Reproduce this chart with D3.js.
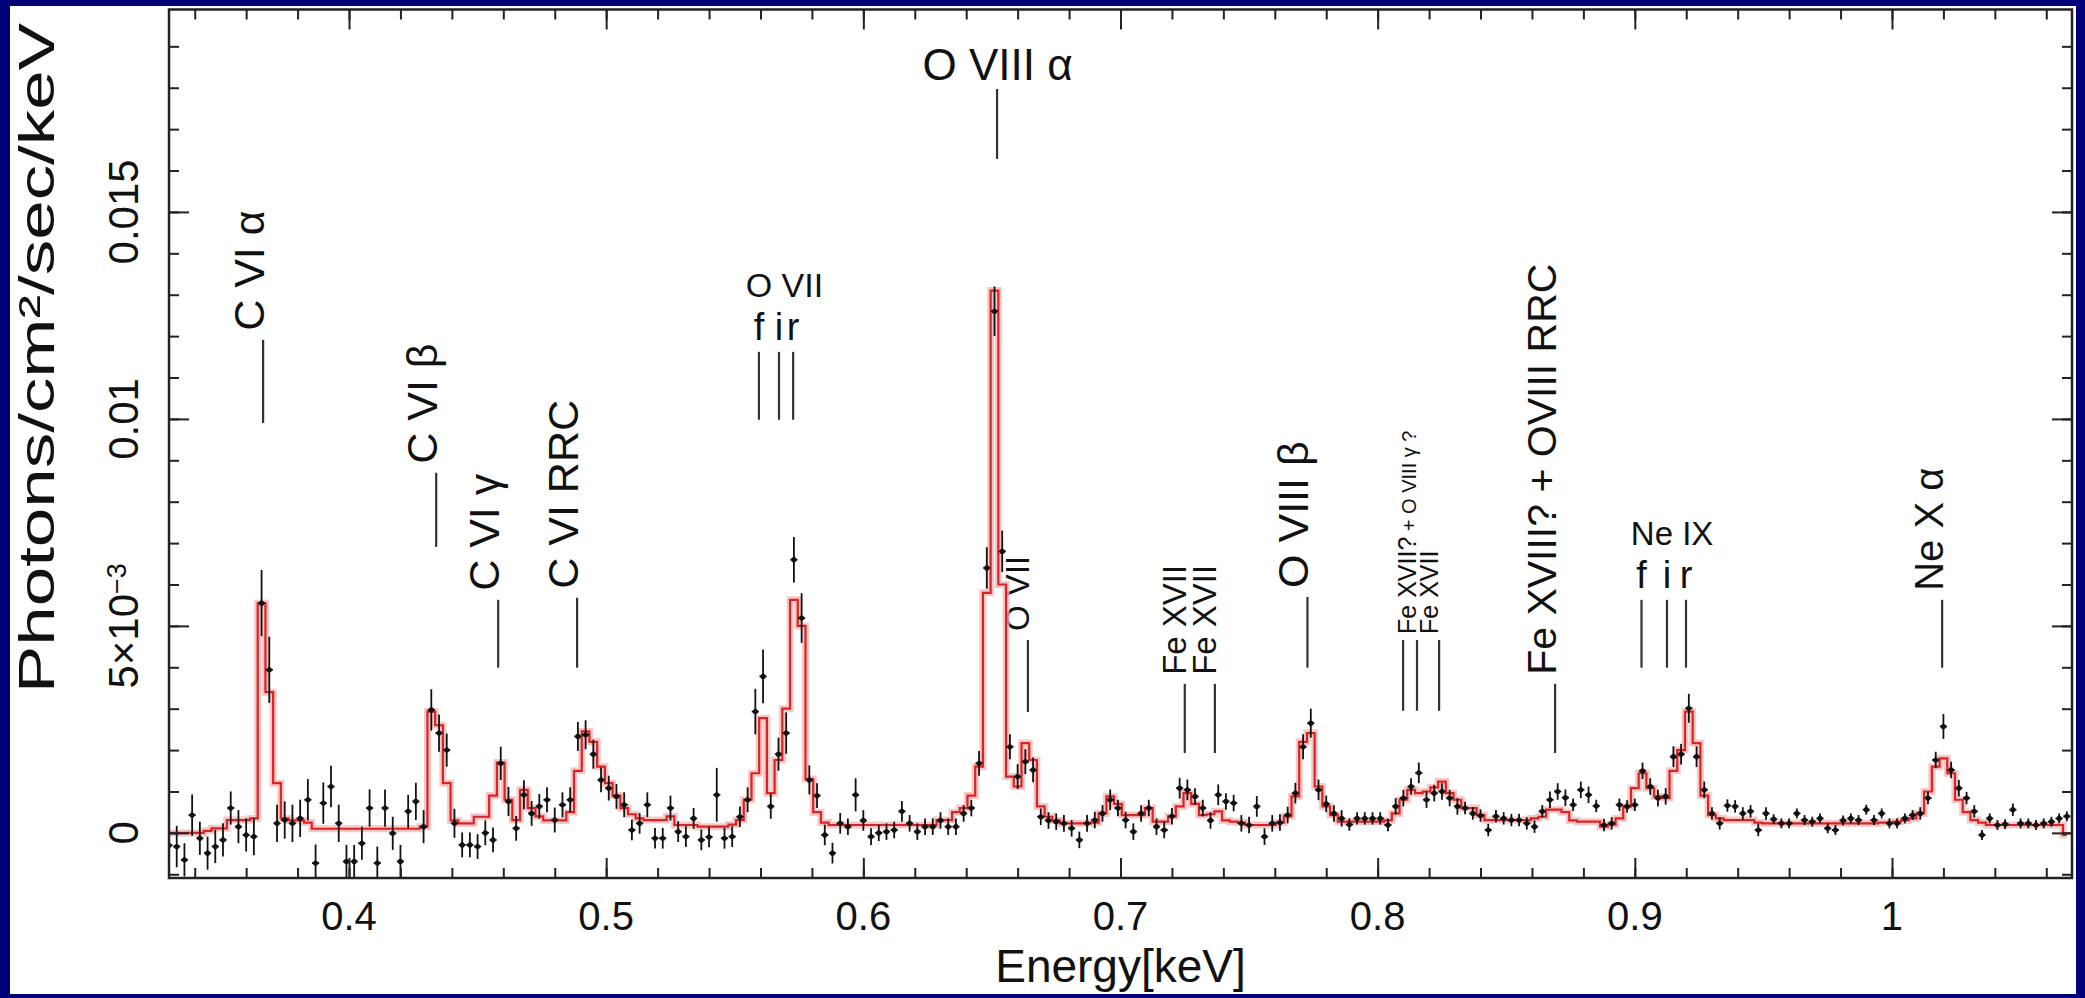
<!DOCTYPE html>
<html>
<head>
<meta charset="utf-8">
<script src="https://cdn.jsdelivr.net/npm/d3@7/dist/d3.min.js"></script>
<style>
  html, body { margin: 0; padding: 0; background: #000078; }
  svg { display: block; }
  text { font-family: "Liberation Sans", Arial, Helvetica, sans-serif; fill: #111; }
</style>
</head>
<body>
<script>
// energy bins in keV, flux in units of 1e-3 photons/cm2/sec/keV
var energy = [
  0.330, 0.333, 0.336, 0.339, 0.342, 0.345, 0.348, 0.351, 0.354, 0.357,
  0.360, 0.363, 0.366, 0.369, 0.372, 0.375, 0.378, 0.381, 0.384, 0.387,
  0.390, 0.393, 0.396, 0.399, 0.402, 0.405, 0.408, 0.411, 0.414, 0.417,
  0.420, 0.423, 0.426, 0.429, 0.432, 0.435, 0.438, 0.441, 0.444, 0.447,
  0.450, 0.453, 0.456, 0.459, 0.462, 0.465, 0.468, 0.471, 0.474, 0.477,
  0.480, 0.483, 0.486, 0.489, 0.492, 0.495, 0.498, 0.501, 0.504, 0.507,
  0.510, 0.513, 0.516, 0.519, 0.522, 0.525, 0.528, 0.531, 0.534, 0.537,
  0.540, 0.543, 0.546, 0.549, 0.552, 0.555, 0.558, 0.561, 0.564, 0.567,
  0.570, 0.573, 0.576, 0.579, 0.582, 0.585, 0.588, 0.591, 0.594, 0.597,
  0.600, 0.603, 0.606, 0.609, 0.612, 0.615, 0.618, 0.621, 0.624, 0.627,
  0.630, 0.633, 0.636, 0.639, 0.642, 0.645, 0.648, 0.651, 0.654, 0.657,
  0.660, 0.663, 0.666, 0.669, 0.672, 0.675, 0.678, 0.681, 0.684, 0.687,
  0.690, 0.693, 0.696, 0.699, 0.702, 0.705, 0.708, 0.711, 0.714, 0.717,
  0.720, 0.723, 0.726, 0.729, 0.732, 0.735, 0.738, 0.741, 0.744, 0.747,
  0.750, 0.753, 0.756, 0.759, 0.762, 0.765, 0.768, 0.771, 0.774, 0.777,
  0.780, 0.783, 0.786, 0.789, 0.792, 0.795, 0.798, 0.801, 0.804, 0.807,
  0.810, 0.813, 0.816, 0.819, 0.822, 0.825, 0.828, 0.831, 0.834, 0.837,
  0.840, 0.843, 0.846, 0.849, 0.852, 0.855, 0.858, 0.861, 0.864, 0.867,
  0.870, 0.873, 0.876, 0.879, 0.882, 0.885, 0.888, 0.891, 0.894, 0.897,
  0.900, 0.903, 0.906, 0.909, 0.912, 0.915, 0.918, 0.921, 0.924, 0.927,
  0.930, 0.933, 0.936, 0.939, 0.942, 0.945, 0.948, 0.951, 0.954, 0.957,
  0.960, 0.963, 0.966, 0.969, 0.972, 0.975, 0.978, 0.981, 0.984, 0.987,
  0.990, 0.993, 0.996, 0.999, 1.002, 1.005, 1.008, 1.011, 1.014, 1.017,
  1.020, 1.023, 1.026, 1.029, 1.032, 1.035, 1.038, 1.041, 1.044, 1.047,
  1.050, 1.053, 1.056, 1.059, 1.062, 1.065, 1.068
]

var flux = [
  -0.30, -0.33, -0.65, 0.43, -0.13, -0.49, -0.33, -0.17, 0.60, 0.15,
  -0.05, -0.09, 5.55, 3.94, 0.23, 0.31, 0.23, 0.35, 0.80, -0.73,
  0.72, 1.12, 0.23, -0.69, -0.69, -0.25, 0.60, -0.73, 0.60, -0.01,
  -0.69, 0.52, 0.76, 0.15, 2.97, 2.41, 2.00, 0.23, -0.29, -0.29,
  -0.33, 0.00, -0.17, 1.68, 0.76, 0.11, 0.92, 0.47, 0.64, 0.80,
  0.31, 0.68, 0.80, 2.33, 2.37, 1.90, 1.28, 1.08, 0.88, 0.68,
  0.07, 0.23, 0.68, -0.13, -0.13, 0.60, 0.03, -0.09, 0.35, -0.17,
  -0.10, 0.92, -0.13, -0.09, 0.39, 0.80, 2.93, 3.78, 0.64, 1.90,
  2.41, 6.60, 5.19, 1.28, 0.90, -0.05, -0.49, 0.23, 0.15, 0.92,
  0.30, -0.09, 0.00, 0.03, 0.07, 0.52, 0.23, 0.03, 0.15, 0.15,
  0.30, 0.15, 0.15, 0.47, 0.60, 1.68, 6.40, 12.60, 6.80, 2.08,
  1.36, 1.72, 1.52, 0.39, 0.30, 0.27, 0.23, 0.11, -0.17, 0.23,
  0.31, 0.47, 0.80, 0.60, 0.31, 0.03, 0.47, 0.60, 0.15, 0.07,
  0.40, 1.08, 1.04, 0.88, 0.60, 0.30, 0.92, 0.76, 0.72, 0.23,
  0.19, 0.64, -0.09, 0.23, 0.25, 0.43, 0.96, 2.08, 2.65, 1.04,
  0.70, 0.47, 0.35, 0.20, 0.35, 0.35, 0.35, 0.35, 0.19, 0.64,
  0.84, 1.12, 1.45, 0.80, 0.96, 1.00, 0.84, 0.64, 0.60, 0.47,
  0.42, 0.07, 0.40, 0.35, 0.31, 0.31, 0.23, 0.15, 0.52, 0.80,
  1.00, 0.85, 0.68, 1.04, 0.92, 0.65, 0.19, 0.23, 0.68, 0.64,
  0.68, 1.50, 1.12, 0.84, 0.88, 1.84, 1.90, 3.01, 1.84, 1.04,
  0.47, 0.23, 0.66, 0.64, 0.47, 0.52, 0.07, 0.47, 0.33, 0.23,
  0.23, 0.47, 0.31, 0.27, 0.35, 0.11, 0.07, 0.30, 0.35, 0.31,
  0.56, 0.31, 0.47, 0.23, 0.23, 0.35, 0.43, 0.47, 0.84, 1.76,
  2.57, 1.52, 1.08, 0.84, 0.52, -0.05, 0.35, 0.19, 0.21, 0.56,
  0.23, 0.23, 0.19, 0.23, 0.27, 0.35, 0.40
]

var fluxErr = [
  0.45, 0.50, 0.40, 0.50, 0.40, 0.40, 0.40, 0.40, 0.40, 0.40,
  0.40, 0.45, 0.80, 0.80, 0.45, 0.45, 0.45, 0.45, 0.50, 0.45,
  0.50, 0.50, 0.45, 0.40, 0.40, 0.40, 0.45, 0.40, 0.45, 0.40,
  0.40, 0.40, 0.45, 0.40, 0.50, 0.45, 0.40, 0.35, 0.30, 0.30,
  0.30, 0.30, 0.30, 0.40, 0.35, 0.30, 0.35, 0.30, 0.30, 0.30,
  0.30, 0.30, 0.30, 0.35, 0.35, 0.35, 0.30, 0.30, 0.30, 0.30,
  0.25, 0.25, 0.30, 0.25, 0.25, 0.30, 0.25, 0.25, 0.25, 0.25,
  0.25, 0.65, 0.25, 0.25, 0.25, 0.30, 0.55, 0.65, 0.30, 0.40,
  0.50, 0.55, 0.60, 0.35, 0.30, 0.25, 0.25, 0.25, 0.20, 0.40,
  0.25, 0.20, 0.20, 0.20, 0.20, 0.25, 0.20, 0.20, 0.20, 0.20,
  0.20, 0.20, 0.20, 0.20, 0.20, 0.30, 0.50, 0.60, 0.50, 0.30,
  0.30, 0.30, 0.30, 0.20, 0.20, 0.20, 0.20, 0.20, 0.20, 0.20,
  0.20, 0.20, 0.25, 0.20, 0.20, 0.20, 0.20, 0.20, 0.20, 0.20,
  0.20, 0.25, 0.25, 0.20, 0.20, 0.20, 0.25, 0.20, 0.20, 0.20,
  0.20, 0.25, 0.20, 0.20, 0.20, 0.20, 0.25, 0.30, 0.35, 0.25,
  0.20, 0.20, 0.20, 0.15, 0.15, 0.15, 0.15, 0.15, 0.15, 0.20,
  0.20, 0.20, 0.25, 0.20, 0.20, 0.20, 0.20, 0.20, 0.15, 0.15,
  0.15, 0.15, 0.15, 0.15, 0.15, 0.15, 0.15, 0.15, 0.15, 0.20,
  0.20, 0.20, 0.15, 0.20, 0.20, 0.15, 0.15, 0.15, 0.15, 0.15,
  0.15, 0.20, 0.20, 0.20, 0.20, 0.25, 0.25, 0.35, 0.25, 0.20,
  0.15, 0.15, 0.15, 0.15, 0.15, 0.15, 0.15, 0.15, 0.12, 0.12,
  0.12, 0.12, 0.12, 0.12, 0.12, 0.12, 0.12, 0.12, 0.12, 0.12,
  0.12, 0.12, 0.12, 0.12, 0.12, 0.12, 0.12, 0.15, 0.15, 0.20,
  0.30, 0.20, 0.20, 0.15, 0.15, 0.12, 0.12, 0.12, 0.12, 0.15,
  0.12, 0.12, 0.12, 0.12, 0.12, 0.12, 0.12
]

var model = [
  0.00, 0.00, 0.00, 0.00, 0.00, 0.05, 0.11, 0.11, 0.31, 0.31,
  0.31, 0.35, 5.55, 3.40, 1.20, 0.35, 0.30, 0.30, 0.25, 0.10,
  0.10, 0.10, 0.10, 0.10, 0.10, 0.10, 0.10, 0.10, 0.10, 0.10,
  0.10, 0.10, 0.10, 0.15, 2.93, 2.60, 1.20, 0.30, 0.23, 0.23,
  0.39, 0.39, 0.90, 1.70, 0.80, 0.31, 1.04, 0.60, 0.40, 0.30,
  0.30, 0.30, 0.50, 1.50, 2.45, 2.20, 1.60, 1.20, 0.90, 0.60,
  0.45, 0.35, 0.31, 0.31, 0.31, 0.40, 0.19, 0.19, 0.19, 0.15,
  0.15, 0.15, 0.15, 0.20, 0.31, 0.80, 1.44, 2.77, 0.96, 1.76,
  3.00, 5.63, 5.00, 1.30, 0.50, 0.25, 0.19, 0.19, 0.19, 0.19,
  0.19, 0.19, 0.19, 0.19, 0.19, 0.19, 0.19, 0.19, 0.19, 0.19,
  0.31, 0.31, 0.50, 0.60, 0.90, 1.60, 5.80, 13.10, 6.00, 1.36,
  1.12, 2.17, 1.76, 0.64, 0.39, 0.30, 0.23, 0.23, 0.23, 0.23,
  0.25, 0.47, 0.88, 0.70, 0.43, 0.43, 0.43, 0.60, 0.27, 0.27,
  0.40, 0.64, 0.96, 0.70, 0.43, 0.45, 0.52, 0.30, 0.27, 0.25,
  0.19, 0.19, 0.19, 0.19, 0.25, 0.40, 0.88, 2.20, 2.41, 1.12,
  0.64, 0.43, 0.27, 0.27, 0.27, 0.27, 0.27, 0.27, 0.30, 0.47,
  0.80, 1.04, 0.96, 1.00, 1.10, 1.24, 0.96, 0.80, 0.60, 0.60,
  0.43, 0.31, 0.31, 0.31, 0.31, 0.31, 0.31, 0.35, 0.39, 0.56,
  0.56, 0.50, 0.30, 0.27, 0.27, 0.27, 0.15, 0.20, 0.35, 0.64,
  1.08, 1.44, 1.08, 0.88, 0.84, 1.50, 2.00, 2.93, 2.17, 0.90,
  0.43, 0.35, 0.31, 0.31, 0.31, 0.31, 0.25, 0.23, 0.23, 0.23,
  0.23, 0.23, 0.23, 0.23, 0.23, 0.23, 0.23, 0.23, 0.23, 0.23,
  0.23, 0.23, 0.25, 0.25, 0.27, 0.30, 0.35, 0.47, 1.00, 1.60,
  1.80, 1.44, 0.80, 0.50, 0.31, 0.25, 0.19, 0.19, 0.19, 0.19,
  0.19, 0.19, 0.19, 0.19, 0.19, 0.19, -0.05
]

var xTicks = [0.4, 0.5, 0.6, 0.7, 0.8, 0.9, 1.0]
var xTickLabels = ['0.4', '0.5', '0.6', '0.7', '0.8', '0.9', '1']
var yTicks = [0, 5, 10, 15]
var yTickLabels = ['0', '5\u00d710', '0.01', '0.015']
var yTickSup = ['', '\u22123', '', '']

// vertical line labels: energy of the line, line extent (flux), label size
var rotLabels = [
  {text: 'C VI \u03b1', e: 0.3666, top: 11.91, bot: 9.90, size: 43},
  {text: 'C VI \u03b2', e: 0.4339, top: 8.70, bot: 6.91, size: 43},
  {text: 'C VI \u03b3', e: 0.4580, top: 5.63, bot: 3.99, size: 43},
  {text: 'C VI RRC', e: 0.4887, top: 5.68, bot: 3.99, size: 43},
  {text: 'O VII', e: 0.6640, top: 4.66, bot: 2.92, size: 33},
  {text: 'Fe XVII', e: 0.7250, top: 3.60, bot: 1.93, size: 33},
  {text: 'Fe XVII', e: 0.7367, top: 3.60, bot: 1.93, size: 33},
  {text: 'O VIII \u03b2', e: 0.7727, top: 5.70, bot: 3.99, size: 43},
  {text: 'Fe XVIII? + OVIII RRC', e: 0.8690, top: 3.60, bot: 1.93, size: 41},
  {text: 'Ne X \u03b1', e: 1.0195, top: 5.63, bot: 3.99, size: 40}
]
var feLines = [0.8099, 0.8153, 0.8239]
var oviiLines = [0.5594, 0.5672, 0.5727]
var neixLines = [0.9026, 0.9125, 0.9199]
var firLetters = ['f', 'i', 'r']

var W = 2085
var H = 998
var mLeft = 169
var mRight = 2072
var mTop = 9.5
var mBottom = 878

var x = d3.scaleLinear().domain([0.33, 1.07]).range([mLeft, mRight])
var y = d3.scaleLinear().domain([-1.09, 19.89]).range([mBottom, mTop])

var svg = d3.select('body')
            .append('svg')
            .attr('width', W)
            .attr('height', H)

svg.append('rect').attr('width', W).attr('height', H).attr('fill', '#000078')
svg.append('rect')
    .attr('x', 10).attr('y', 6)
    .attr('width', 2066).attr('height', 988)
    .attr('fill', '#ffffff')

svg.append('clipPath').attr('id', 'plotclip')
  .append('rect')
    .attr('x', mLeft).attr('y', mTop)
    .attr('width', mRight - mLeft).attr('height', mBottom - mTop)

// ANNOTATIONS
var ann = svg.append('g').attr('class', 'annotations')

function vline (e, t, b) {
  ann.append('line')
    .attr('x1', x(e)).attr('x2', x(e))
    .attr('y1', y(t)).attr('y2', y(b))
    .attr('stroke', '#333').attr('stroke-width', 2.2)
}

rotLabels.forEach(function (d) {
  vline(d.e, d.top, d.bot)
  ann.append('text')
    .attr('transform', 'translate(' + (x(d.e) + 1) + ',' + (y(d.top) - 9) + ') rotate(-90)')
    .attr('font-size', d.size)
    .text(d.text)
})

feLines.forEach(function (e) { vline(e, 4.66, 2.95) })
var feText = ann.append('text')
    .attr('transform', 'translate(' + (x(feLines[1]) - 1) + ',' + (y(4.66) - 6) + ') rotate(-90)')
    .attr('font-size', 25)
feText.append('tspan').text('Fe XVII?')
feText.append('tspan').attr('font-size', 20).text(' + O VIII \u03b3 ?')
ann.append('text')
    .attr('transform', 'translate(' + (x(feLines[2]) - 1) + ',' + (y(4.66) - 6) + ') rotate(-90)')
    .attr('font-size', 25)
    .text('Fe XVII')

oviiLines.forEach(function (e) { vline(e, 11.62, 9.98) })
ann.append('text')
    .attr('x', x(0.5693)).attr('y', y(12.95))
    .attr('text-anchor', 'middle').attr('font-size', 34)
    .text('O VII')
oviiLines.forEach(function (e, i) {
  ann.append('text')
    .attr('x', x(e)).attr('y', y(11.91))
    .attr('text-anchor', 'middle').attr('font-size', 38)
    .text(firLetters[i])
})

neixLines.forEach(function (e) { vline(e, 5.63, 3.99) })
ann.append('text')
    .attr('x', x(0.9145)).attr('y', y(6.96))
    .attr('text-anchor', 'middle').attr('font-size', 33)
    .text('Ne IX')
neixLines.forEach(function (e, i) {
  ann.append('text')
    .attr('x', x(e)).attr('y', y(5.92))
    .attr('text-anchor', 'middle').attr('font-size', 38)
    .text(firLetters[i])
})

vline(0.652, 17.97, 16.28)
ann.append('text')
    .attr('x', x(0.6522)).attr('y', y(18.19))
    .attr('text-anchor', 'middle').attr('font-size', 44)
    .text('O VIII \u03b1')

// MODEL (step histogram) AND DATA
var plot = svg.append('g').attr('clip-path', 'url(#plotclip)')

var step = d3.line()
    .x(function (d, i) { return x(energy[i]) })
    .y(function (d) { return y(d) })
    .curve(d3.curveStep)

plot.append('path')
    .attr('d', step(model))
    .attr('fill', 'none')
    .attr('stroke', '#f6b4b4')
    .attr('stroke-opacity', 0.75)
    .attr('stroke-width', 7)
plot.append('path')
    .attr('d', step(model))
    .attr('fill', 'none')
    .attr('stroke', '#d82424')
    .attr('stroke-width', 2.2)

var pts = plot.selectAll('.pt')
    .data(flux)
    .enter()
      .append('g')
      .classed('pt', true)

pts.append('line')
    .attr('x1', function (d, i) { return x(energy[i]) })
    .attr('x2', function (d, i) { return x(energy[i]) })
    .attr('y1', function (d, i) { return y(d - fluxErr[i]) })
    .attr('y2', function (d, i) { return y(d + fluxErr[i]) })
    .attr('stroke', '#111').attr('stroke-width', 1.8)
pts.append('line')
    .attr('x1', function (d, i) { return x(energy[i] - 0.0014) })
    .attr('x2', function (d, i) { return x(energy[i] + 0.0014) })
    .attr('y1', function (d) { return y(d) })
    .attr('y2', function (d) { return y(d) })
    .attr('stroke', '#111').attr('stroke-width', 1.8)
pts.append('circle')
    .attr('cx', function (d, i) { return x(energy[i]) })
    .attr('cy', function (d) { return y(d) })
    .attr('r', 2.6)
    .attr('fill', '#111')

// AXES (inward ticks on all four sides)
var xMinor = d3.range(0.34, 1.07, 0.02).map(function (v) { return Math.round(v * 100) / 100 })
var yMinor = d3.range(-1, 20, 1)

function tickAxis (axis, values, size) {
  return axis.tickValues(values).tickSize(size).tickFormat('')
}

var axes = svg.append('g').classed('axes', true)
axes.append('g').attr('transform', 'translate(0,' + mBottom + ')').call(tickAxis(d3.axisBottom(x), xMinor, -10))
axes.append('g').attr('transform', 'translate(0,' + mBottom + ')').call(tickAxis(d3.axisBottom(x), xTicks, -20))
axes.append('g').attr('transform', 'translate(0,' + mTop + ')').call(tickAxis(d3.axisTop(x), xMinor, -10))
axes.append('g').attr('transform', 'translate(0,' + mTop + ')').call(tickAxis(d3.axisTop(x), xTicks, -20))
axes.append('g').attr('transform', 'translate(' + mLeft + ',0)').call(tickAxis(d3.axisLeft(y), yMinor, -10))
axes.append('g').attr('transform', 'translate(' + mLeft + ',0)').call(tickAxis(d3.axisLeft(y), yTicks, -20))
axes.append('g').attr('transform', 'translate(' + mRight + ',0)').call(tickAxis(d3.axisRight(y), yMinor, -10))
axes.append('g').attr('transform', 'translate(' + mRight + ',0)').call(tickAxis(d3.axisRight(y), yTicks, -20))
axes.selectAll('.domain').remove()
axes.selectAll('.tick line').attr('stroke', '#222').attr('stroke-width', 2)

svg.append('rect')
    .attr('x', mLeft).attr('y', mTop)
    .attr('width', mRight - mLeft).attr('height', mBottom - mTop)
    .attr('fill', 'none')
    .attr('stroke', '#222')
    .attr('stroke-width', 2.5)

svg.selectAll('.xlab')
    .data(xTicks)
    .enter()
      .append('text')
      .classed('xlab', true)
      .attr('x', function (d) { return x(d) })
      .attr('y', 930)
      .attr('text-anchor', 'middle')
      .attr('font-size', 40)
      .text(function (d, i) { return xTickLabels[i] })

var ylab = svg.selectAll('.ylab')
    .data(yTicks)
    .enter()
      .append('text')
      .classed('ylab', true)
      .attr('transform', function (d) { return 'translate(138,' + y(d) + ') rotate(-90)' })
      .attr('text-anchor', 'middle')
      .attr('font-size', 42)
ylab.append('tspan').text(function (d, i) { return yTickLabels[i] })
ylab.append('tspan')
    .attr('dy', '-0.45em')
    .attr('font-size', 27)
    .text(function (d, i) { return yTickSup[i] })

svg.append('text')
    .attr('x', (mLeft + mRight) / 2)
    .attr('y', 982)
    .attr('text-anchor', 'middle')
    .attr('font-size', 46)
    .text('Energy[keV]')

svg.append('text')
    .attr('transform', 'translate(54,693) rotate(-90)')
    .attr('font-size', 50)
    .attr('textLength', 670)
    .attr('lengthAdjust', 'spacingAndGlyphs')
    .text('Photons/cm\u00b2/sec/keV')
</script>
</body>
</html>
